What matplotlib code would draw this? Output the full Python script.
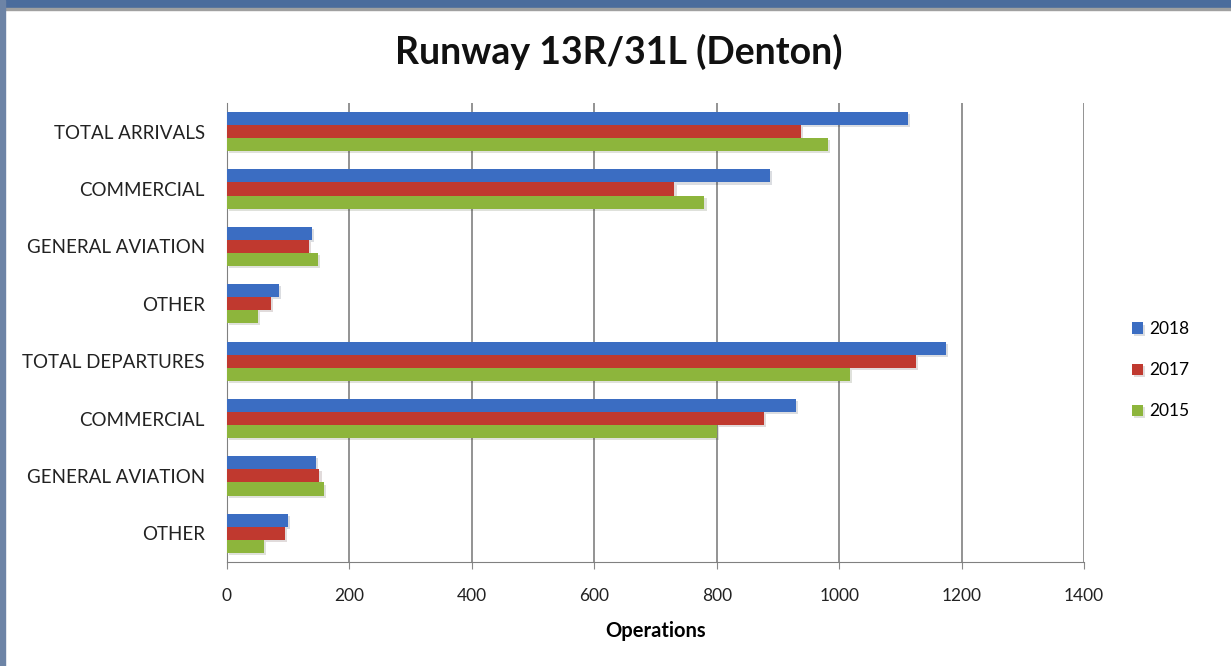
import numpy as np
import matplotlib
matplotlib.use("Agg")
import matplotlib.pyplot as plt
import matplotlib.patheffects as pe
from matplotlib.patches import Rectangle

# data
categories = ["TOTAL ARRIVALS", "COMMERCIAL", "GENERAL AVIATION", "OTHER",
              "TOTAL DEPARTURES", "COMMERCIAL", "GENERAL AVIATION", "OTHER"]
ops_2018 = [1113, 887, 139, 85, 1175, 929, 145, 100]
ops_2017 = [938, 731, 134, 72, 1126, 877, 151, 95]
ops_2015 = [982, 780, 148, 50, 1018, 800, 159, 60]
years = ["2018", "2017", "2015"]
colors = ["#3b6dc2", "#c0392f", "#8db53c"]
xticks = [0, 200, 400, 600, 800, 1000, 1200, 1400]

plt.rcParams['font.family'] = ['Lato', 'DejaVu Sans']

fig = plt.figure(figsize=(12.31, 6.66), dpi=100)
fig.patch.set_facecolor("white")

# photo-ish border around the pasted chart
fig.patches.append(Rectangle((0, 0.988), 1, 0.012, transform=fig.transFigure,
                             color="#4b6c9c", zorder=0))
fig.patches.append(Rectangle((0, 0.985), 1, 0.003, transform=fig.transFigure,
                             color="#a0a0a0", zorder=0))
fig.patches.append(Rectangle((0, 0), 0.004, 1, transform=fig.transFigure,
                             color="#6d84a6", zorder=0))

ax = fig.add_axes([0.1844, 0.1562, 0.6962, 0.6892])

y = np.arange(len(categories))
h = 0.228
shadow = [pe.SimplePatchShadow(offset=(1.5, -1.5), alpha=0.15), pe.Normal()]
for i, (vals, c, lab) in enumerate(zip([ops_2018, ops_2017, ops_2015], colors, years)):
    bars = ax.barh(y + (i - 1) * h, vals, height=h, color=c, label=lab, zorder=3)
    for b in bars:
        b.set_path_effects(shadow)

ax.set_xlim(0, 1400)
ax.set_ylim(len(categories) - 0.5, -0.5)
ax.set_xticks(xticks)
ax.set_yticks(y)
ax.set_yticklabels(categories, fontsize=13.5, color="#222222")
ax.tick_params(axis="x", labelsize=12.5, colors="#222222", length=5, color="#888888", pad=14)
ax.tick_params(axis="y", length=0, pad=16)
ax.xaxis.grid(True, color="#808080", linewidth=1.2, zorder=0)

for s in ["top", "right"]:
    ax.spines[s].set_visible(False)
ax.spines["left"].set_color("#808080")
ax.spines["bottom"].set_color("#808080")

ax.set_xlabel("Operations", fontsize=14.5, fontweight="bold", labelpad=12)

fig.text(0.503, 0.922, "Runway 13R/31L (Denton)", fontsize=27, fontweight="bold",
         ha="center", va="center", color="#111111")

ax.legend(loc="center left", bbox_to_anchor=(0.907, 0.444), bbox_transform=fig.transFigure,
          frameon=False, fontsize=12.5, handlelength=0.6, handleheight=0.6,
          handletextpad=0.4, labelspacing=1.45)

fig.savefig("out.png", dpi=100)
